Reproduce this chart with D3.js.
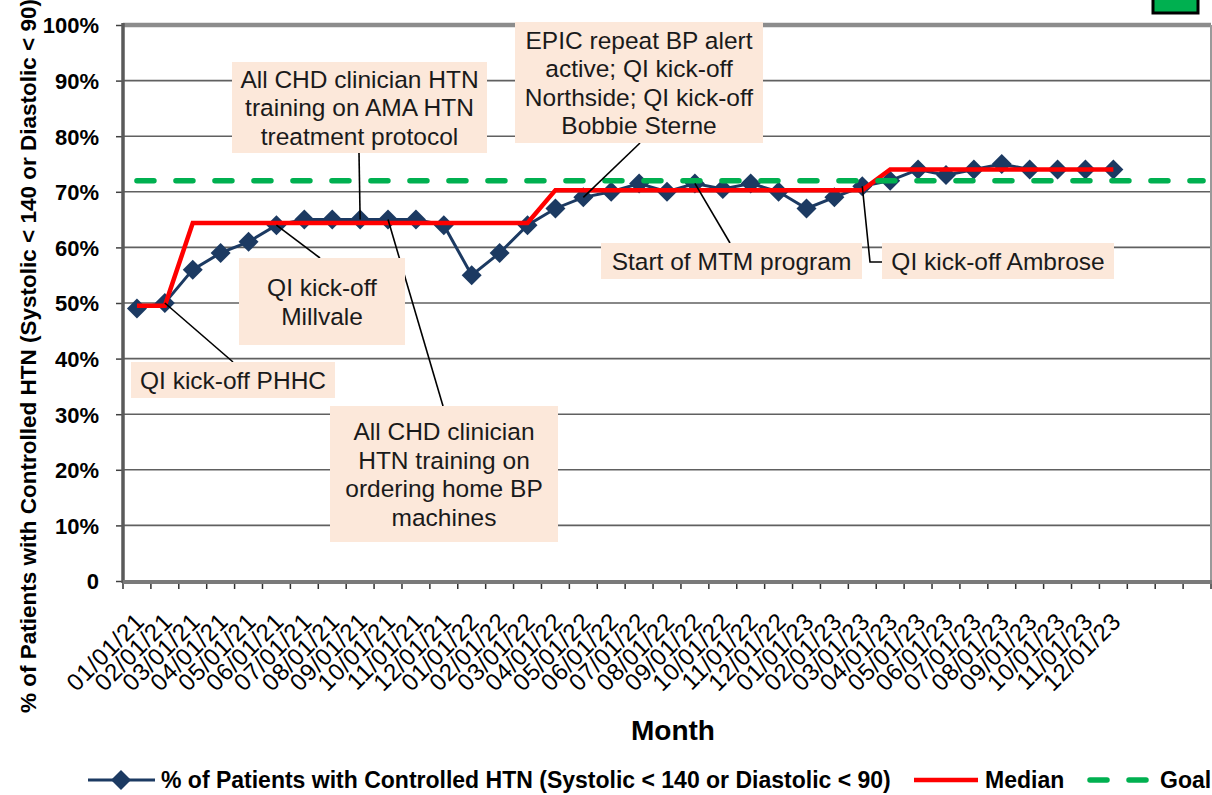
<!DOCTYPE html>
<html>
<head>
<meta charset="utf-8">
<script src="https://cdn.jsdelivr.net/npm/d3@7"></script>
<style>
  body { margin: 0; background: #fff; }
  text { font-family: "Liberation Sans", Arial, sans-serif; }
</style>
</head>
<body>
<script>
// month labels (x axis keeps 3 empty slots after the last month)
const months = [
  '01/01/21','02/01/21','03/01/21','04/01/21','05/01/21','06/01/21',
  '07/01/21','08/01/21','09/01/21','10/01/21','11/01/21','12/01/21',
  '01/01/22','02/01/22','03/01/22','04/01/22','05/01/22','06/01/22',
  '07/01/22','08/01/22','09/01/22','10/01/22','11/01/22','12/01/22',
  '01/01/23','02/01/23','03/01/23','04/01/23','05/01/23','06/01/23',
  '07/01/23','08/01/23','09/01/23','10/01/23','11/01/23','12/01/23'
]
const emptySlots = 3

// % of patients with controlled HTN
const controlled = [
  49, 50, 56, 59, 61, 64, 65, 65, 65, 65, 65, 64,
  55, 59, 64, 67, 69, 70, 71.5, 70, 71.5, 70.5, 71.5, 70,
  67, 69, 71, 72, 74, 73, 74, 75, 74, 74, 74, 74
]

// median segments
const median = [
  49.5, 49.5, 64.4, 64.4, 64.4, 64.4, 64.4, 64.4, 64.4, 64.4, 64.4, 64.4,
  64.4, 64.4, 64.4, 70.3, 70.3, 70.3, 70.3, 70.3, 70.3, 70.3, 70.3, 70.3,
  70.3, 70.3, 70.3, 74, 74, 74, 74, 74, 74, 74, 74, 74
]

const goal = 72
const yTicks = [0, 10, 20, 30, 40, 50, 60, 70, 80, 90, 100]

const seriesName = '% of Patients with Controlled HTN (Systolic < 140 or Diastolic < 90)'

// annotations: text lines, the month they point at, box in px, leader start
const notes = [
  {lines: ['All CHD clinician HTN', 'training on AMA HTN', 'treatment protocol'], at: 8, box: [232, 62, 255, 91], from: [[359, 153]]},
  {lines: ['EPIC repeat BP alert', 'active; QI kick-off', 'Northside; QI kick-off', 'Bobbie Sterne'], at: 16, box: [515, 22, 248, 121], from: [[640, 143]]},
  {lines: ['Start of MTM program'], at: 20, box: [601, 243, 261, 36], from: [[730, 243]]},
  {lines: ['QI kick-off Ambrose'], at: 26, box: [882, 243, 232, 36], from: [[882, 262], [870, 262]]},
  {lines: ['QI kick-off', 'Millvale'], at: 5, box: [239, 258, 166, 87], from: [[320, 258]]},
  {lines: ['QI kick-off PHHC'], at: 1, box: [131, 362, 204, 36], from: [[233, 362]]},
  {lines: ['All CHD clinician', 'HTN training on', 'ordering home BP', 'machines'], at: 9, box: [330, 406, 228, 136], from: [[443, 406]]}
]

const width = 1212
const height = 795
const plot = {left: 123, top: 25, right: 1211, bottom: 581}

const navy = '#1c3a62'
const red = '#ff0000'
const green = '#00b050'
const peach = '#fce8da'

const svg = d3.select('body').append('svg')
  .attr('width', width)
  .attr('height', height)

const slots = d3.range(months.length + emptySlots)
const x = d3.scaleBand().domain(slots).range([plot.left, plot.right])
const y = d3.scaleLinear().domain([0, 100]).range([plot.bottom, plot.top])
const cx = (i) => x(i) + x.bandwidth() / 2

// gridlines
svg.append('g').selectAll('line').data(yTicks.filter((d) => d > 0 && d < 100)).join('line')
  .attr('x1', plot.left).attr('x2', plot.right)
  .attr('y1', (d) => y(d)).attr('y2', (d) => y(d))
  .attr('stroke', '#606060').attr('stroke-width', 1.6)

// frame
svg.append('line').attr('x1', plot.left).attr('x2', plot.right)
  .attr('y1', y(100)).attr('y2', y(100))
  .attr('stroke', '#8c8c8c').attr('stroke-width', 4.5)
svg.append('line').attr('x1', plot.right).attr('x2', plot.right)
  .attr('y1', y(100)).attr('y2', y(0))
  .attr('stroke', '#9a9a9a').attr('stroke-width', 2)

// y axis
const yAxis = d3.axisLeft(y).tickValues(yTicks)
  .tickFormat((d) => d === 0 ? '0' : d + '%')
  .tickSize(7).tickPadding(17)
const gY = svg.append('g').attr('transform', `translate(${plot.left},0)`).call(yAxis)
gY.select('.domain').remove()
gY.selectAll('line').attr('stroke', '#404040').attr('stroke-width', 1.5)
gY.selectAll('text').attr('font-size', 22).attr('font-weight', 'bold')
  .attr('fill', '#000').attr('dy', '0.36em')

// x axis (labels at centers, ticks at boundaries)
const xAxis = d3.axisBottom(x).tickSize(0).tickFormat((i) => months[i] || '')
const gX = svg.append('g').attr('transform', `translate(0,${plot.bottom})`).call(xAxis)
gX.select('.domain').remove()
gX.selectAll('text')
  .attr('font-size', 24).attr('fill', '#000')
  .attr('letter-spacing', 0.6)
  .attr('text-anchor', 'end')
  .attr('y', 0).attr('dy', 0)
  .attr('transform', 'translate(9,42) rotate(-45)')

svg.append('g').selectAll('line').data(d3.range(slots.length + 1)).join('line')
  .attr('x1', (i) => i < slots.length ? x(i) : plot.right)
  .attr('x2', (i) => i < slots.length ? x(i) : plot.right)
  .attr('y1', plot.bottom).attr('y2', plot.bottom + 8)
  .attr('stroke', '#303030').attr('stroke-width', 1.5)

svg.append('line').attr('x1', plot.left).attr('x2', plot.left)
  .attr('y1', y(100) - 2).attr('y2', y(0) + 2)
  .attr('stroke', '#5a5a5a').attr('stroke-width', 3.5)
svg.append('line').attr('x1', plot.left).attr('x2', plot.right + 1)
  .attr('y1', y(0) + 1).attr('y2', y(0) + 1)
  .attr('stroke', '#7a7a7a').attr('stroke-width', 4)

// series
const line = d3.line().x((d, i) => cx(i)).y((d) => y(d))

svg.append('path').datum(controlled)
  .attr('fill', 'none').attr('stroke', navy).attr('stroke-width', 3)
  .attr('d', line)

const diamond = d3.symbol().type(d3.symbolSquare).size(200)
svg.append('g').selectAll('path').data(controlled).join('path')
  .attr('d', diamond)
  .attr('fill', navy)
  .attr('transform', (d, i) => `translate(${cx(i)},${y(d)}) rotate(45)`)

svg.append('path').datum(median)
  .attr('fill', 'none').attr('stroke', red).attr('stroke-width', 4.5)
  .attr('d', line)

svg.append('line')
  .attr('x1', cx(0)).attr('x2', cx(slots.length - 1) + 6)
  .attr('y1', y(goal)).attr('y2', y(goal))
  .attr('stroke', green).attr('stroke-width', 5.5)
  .attr('stroke-linecap', 'round')
  .attr('stroke-dasharray', '17,22')

// annotations
const gN = svg.append('g')
notes.forEach((n) => {
  const pts = n.from.concat([[cx(n.at), y(controlled[n.at])]])
  gN.append('path')
    .attr('d', d3.line()(pts))
    .attr('fill', 'none').attr('stroke', '#000').attr('stroke-width', 1.6)
})
notes.forEach((n) => {
  const [bx, by, bw, bh] = n.box
  gN.append('rect').attr('x', bx).attr('y', by).attr('width', bw).attr('height', bh)
    .attr('fill', peach)
  const lh = 28.5
  const top = by + bh / 2 - (n.lines.length * lh) / 2 + lh / 2
  gN.append('g').selectAll('text').data(n.lines).join('text')
    .attr('x', bx + bw / 2)
    .attr('y', (d, i) => top + i * lh)
    .attr('dy', '0.36em')
    .attr('text-anchor', 'middle')
    .attr('font-size', 24.5)
    .attr('fill', '#1a1a1a')
    .text((d) => d)
})

// axis titles
svg.append('text')
  .attr('transform', 'translate(36,356) rotate(-90)')
  .attr('text-anchor', 'middle')
  .attr('font-size', 22.5).attr('font-weight', 'bold')
  .text(seriesName)

svg.append('text')
  .attr('x', 673).attr('y', 740)
  .attr('text-anchor', 'middle')
  .attr('font-size', 28).attr('font-weight', 'bold')
  .text('Month')

// legend
const ly = 780
const legend = svg.append('g')
legend.append('line').attr('x1', 88).attr('x2', 155).attr('y1', ly).attr('y2', ly)
  .attr('stroke', navy).attr('stroke-width', 3)
legend.append('path').attr('d', diamond)
  .attr('fill', navy).attr('transform', `translate(121,${ly}) rotate(45)`)
legend.append('text').attr('x', 161).attr('y', ly).attr('dy', '0.36em')
  .attr('font-size', 23).attr('font-weight', 'bold').text(seriesName)

legend.append('line').attr('x1', 914).attr('x2', 978).attr('y1', ly).attr('y2', ly)
  .attr('stroke', red).attr('stroke-width', 4.5)
legend.append('text').attr('x', 985).attr('y', ly).attr('dy', '0.36em')
  .attr('font-size', 23).attr('font-weight', 'bold').text('Median')

legend.append('line').attr('x1', 1090).attr('x2', 1148).attr('y1', ly).attr('y2', ly)
  .attr('stroke', green).attr('stroke-width', 5.5)
  .attr('stroke-linecap', 'round').attr('stroke-dasharray', '17,22')
legend.append('text').attr('x', 1160).attr('y', ly).attr('dy', '0.36em')
  .attr('font-size', 23).attr('font-weight', 'bold').text('Goal')

// green marker in top corner
svg.append('rect').attr('x', 1153).attr('y', -4).attr('width', 45).attr('height', 17)
  .attr('fill', green).attr('stroke', '#000').attr('stroke-width', 3)
</script>
</body>
</html>
